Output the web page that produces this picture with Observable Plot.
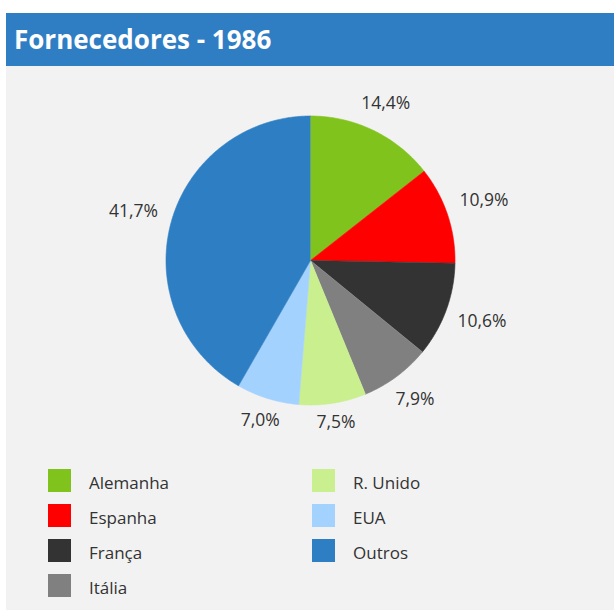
<!DOCTYPE html>
<html>
<head>
<meta charset="utf-8">
<script src="https://cdn.jsdelivr.net/npm/d3@7"></script>
<script src="https://cdn.jsdelivr.net/npm/@observablehq/plot@0.6"></script>
<style>
  html, body { margin: 0; padding: 0; background: #ffffff; }
  body { width: 614px; height: 610px; position: relative; overflow: hidden; font-family: "Open Sans", "Noto Sans", sans-serif; }
  #panel { position: absolute; left: 6px; top: 13px; width: 608px; height: 597px; background: #f2f2f2; }
  #title { position: absolute; left: 0; top: 0; width: 608px; height: 53px; background: #2f7ec3; color: #fff;
           font-weight: 700; font-size: 26px; line-height: 53px; padding-left: 8px; box-sizing: border-box; }
  #chart { position: absolute; left: 0; top: 53px; }
  .leg { position: absolute; display: flex; align-items: center; font-size: 17px; color: #333; }
  .sw { width: 23px; height: 23px; margin-right: 18px; flex: none; }
</style>
</head>
<body>
<div id="panel">
  <div id="title">Fornecedores - 1986</div>
  <div id="chart"></div>
  <div id="legend"></div>
</div>
<script>
const categories = ["Alemanha", "Espanha", "França", "Itália", "R. Unido", "EUA", "Outros"];
const values = [14.4, 10.9, 10.6, 7.9, 7.5, 7.0, 41.7];
const colors = ["#80c31c", "#ff0000", "#333333", "#808080", "#caef8f", "#a4d2fe", "#2e7ec3"];

const data = categories.map((name, i) => ({name, value: values[i], color: colors[i]}));

// pie angles (clockwise from top)
const arcs = d3.pie().sort(null).value(d => d.value)(data);

// polygon points for each slice
const slicePts = [];
arcs.forEach(a => {
  slicePts.push({name: a.data.name, color: a.data.color, x: 0, y: 0});
  const n = Math.max(2, Math.ceil((a.endAngle - a.startAngle) / (Math.PI / 360)));
  for (let k = 0; k <= n; k++) {
    const t = a.startAngle + (a.endAngle - a.startAngle) * k / n;
    slicePts.push({name: a.data.name, color: a.data.color, x: Math.sin(t), y: Math.cos(t)});
  }
});

// label positions
const labels = arcs.map(a => {
  const m = (a.startAngle + a.endAngle) / 2;
  const s = Math.sin(m), c = Math.cos(m);
  const rr = (163 + 21 * Math.abs(s)) / 144.5;
  return {x: s * rr, y: c * rr, text: a.data.value.toFixed(1).replace(".", ",") + "%"};
});

const W = 608, H = 392, R = 144.5, cx = 304, cy = 194;

const plot = Plot.plot({
  width: W,
  height: H,
  margin: 0,
  style: {background: "transparent", fontFamily: "'Open Sans', 'Noto Sans', sans-serif", overflow: "visible"},
  x: {domain: [-cx / R, (W - cx) / R], axis: null},
  y: {domain: [-(H - cy) / R, cy / R], axis: null},
  marks: [
    Plot.line(slicePts, {x: "x", y: "y", z: "name", fill: "color", stroke: "color", strokeWidth: 0.6, curve: "linear"}),
    Plot.text(labels, {x: "x", y: "y", text: "text", fontSize: 17.5, fill: "#333", textAnchor: "middle", dy: -2})
  ]
});
document.getElementById("chart").appendChild(plot);

// legend
const legend = document.getElementById("legend");
data.forEach((d, i) => {
  const col = i < 4 ? 0 : 1;
  const row = i < 4 ? i : i - 4;
  const el = document.createElement("div");
  el.className = "leg";
  el.style.left = (col === 0 ? 42 : 306) + "px";
  el.style.top = (456 + row * 35) + "px";
  el.innerHTML = `<span class="sw" style="background:${d.color}"></span><span style="position:relative;top:2px">${d.name}</span>`;
  legend.appendChild(el);
});
</script>
</body>
</html>
